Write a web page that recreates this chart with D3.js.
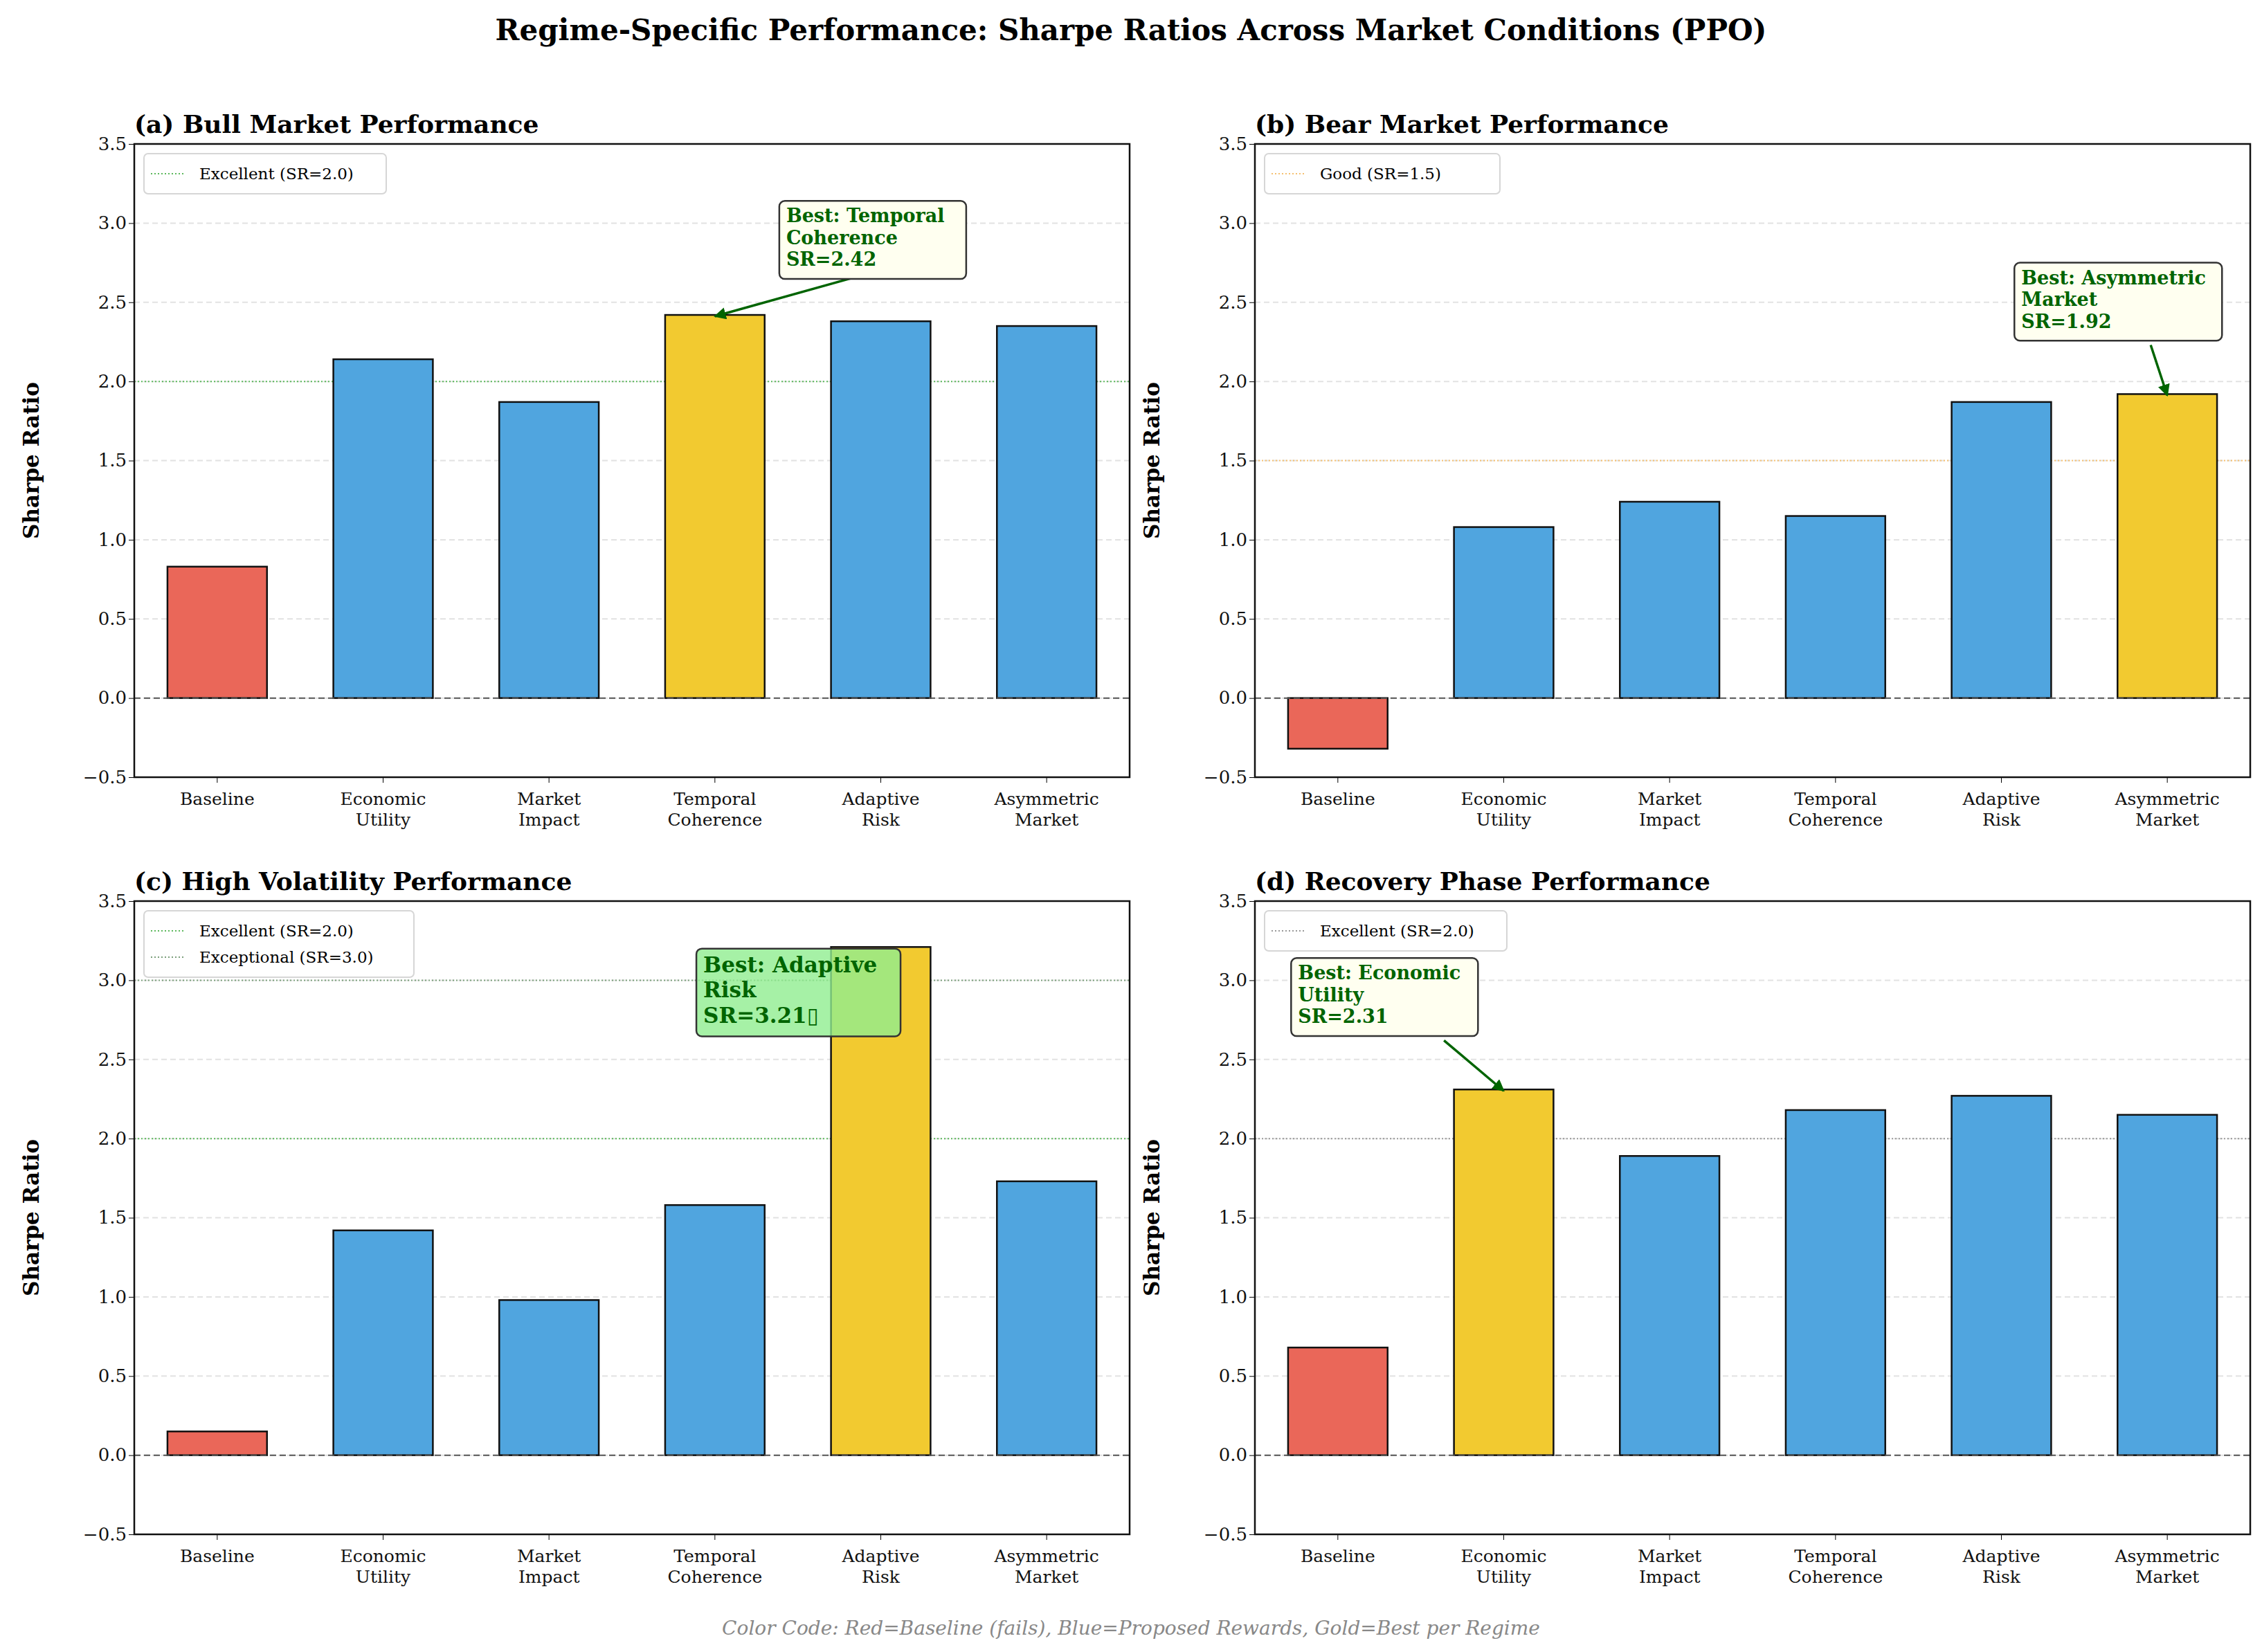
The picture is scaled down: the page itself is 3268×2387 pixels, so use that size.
<!DOCTYPE html>
<html><head><meta charset="utf-8">
<script src="https://cdn.jsdelivr.net/npm/d3@7"></script>
<style>body{margin:0;background:#fff}</style>
</head><body>
<svg id="chart" width="3268" height="2387"></svg>
<script>
// data
var categories = ['Baseline', 'Economic\nUtility', 'Market\nImpact', 'Temporal\nCoherence', 'Adaptive\nRisk', 'Asymmetric\nMarket'];
var bullValues = [0.83, 2.14, 1.87, 2.42, 2.38, 2.35];
var bearValues = [-0.32, 1.08, 1.24, 1.15, 1.87, 1.92];
var volValues = [0.15, 1.42, 0.98, 1.58, 3.21, 1.73];
var recValues = [0.68, 2.31, 1.89, 2.18, 2.27, 2.15];
var yTicks = [-0.5, 0, 0.5, 1, 1.5, 2, 2.5, 3, 3.5];

var RED = '#ea6759', BLUE = '#50a5df', GOLD = '#f2ca30';
var FONT = 'DejaVu Serif';

var panels = [
	{title: '(a) Bull Market Performance', values: bullValues, x: 194, y: 208,
		refs: [{v: 2.0, label: 'Excellent (SR=2.0)', color: '#5cb85c'}],
		note: {lines: ['Best: Temporal', 'Coherence', 'SR=2.42'], bx: 3.43, by: 3.14, fill: '#fffff0', arrowFrom: [3.85, 2.66], big: false}},
	{title: '(b) Bear Market Performance', values: bearValues, x: 1813, y: 208,
		refs: [{v: 1.5, label: 'Good (SR=1.5)', color: '#f5c070'}],
		note: {lines: ['Best: Asymmetric', 'Market', 'SR=1.92'], bx: 4.12, by: 2.75, fill: '#fffff0', arrowFrom: [4.9, 2.23], big: false}},
	{title: '(c) High Volatility Performance', values: volValues, x: 194, y: 1302,
		refs: [{v: 2.0, label: 'Excellent (SR=2.0)', color: '#5cb85c'}, {v: 3.0, label: 'Exceptional (SR=3.0)', color: '#7a9e7a'}],
		note: {lines: ['Best: Adaptive', 'Risk', 'SR=3.21\u25af'], bx: 2.93, by: 3.2, fill: 'rgba(144,238,144,0.8)', arrowFrom: null, big: true}},
	{title: '(d) Recovery Phase Performance', values: recValues, x: 1813, y: 1302,
		refs: [{v: 2.0, label: 'Excellent (SR=2.0)', color: '#999'}],
		note: {lines: ['Best: Economic', 'Utility', 'SR=2.31'], bx: -0.24, by: 3.14, fill: '#fffff0', arrowFrom: [0.64, 2.62], big: false}}
];

var W = 1438, H = 915;
var svg = d3.select('#chart');
svg.append('defs').append('marker').attr('id', 'arr').attr('viewBox', '0 0 10 10')
	.attr('refX', 9).attr('refY', 5).attr('markerWidth', 5).attr('markerHeight', 5).attr('orient', 'auto')
	.append('path').attr('d', 'M0,0 L10,5 L0,10 z').attr('fill', '#006400');

svg.append('text').attr('x', 1634).attr('y', 58).attr('text-anchor', 'middle')
	.attr('font-family', FONT).attr('font-weight', 'bold').attr('font-size', 42)
	.text('Regime-Specific Performance: Sharpe Ratios Across Market Conditions (PPO)');

svg.append('text').attr('x', 1634).attr('y', 2362).attr('text-anchor', 'middle')
	.attr('font-family', FONT).attr('font-style', 'italic').attr('font-size', 28).attr('fill', '#888')
	.text('Color Code: Red=Baseline (fails), Blue=Proposed Rewards, Gold=Best per Regime');

panels.forEach(function(p){
	var g = svg.append('g').attr('transform', 'translate(' + p.x + ',' + p.y + ')');
	var x = d3.scaleBand().domain(d3.range(categories.length)).range([0, W]).paddingInner(0.4).paddingOuter(0.2);
	var y = d3.scaleLinear().domain([-0.5, 3.5]).range([H, 0]);
	var cx = function(i){ return x(0) + x.bandwidth() / 2 + i * x.step(); };
	var best = d3.maxIndex(p.values);

	// grid
	g.selectAll('.grid').data(yTicks.slice(1, -1)).enter().append('line')
		.attr('x1', 0).attr('x2', W).attr('y1', y).attr('y2', y)
		.attr('stroke', '#e2e2e2').attr('stroke-width', 2).attr('stroke-dasharray', '8,5');

	// reference lines
	p.refs.forEach(function(r){
		g.append('line').attr('x1', 0).attr('x2', W).attr('y1', y(r.v)).attr('y2', y(r.v))
			.attr('stroke', r.color).attr('stroke-width', 2).attr('stroke-dasharray', '2,3');
	});

	// bars
	g.selectAll('.bar').data(p.values).enter().append('rect')
		.attr('x', function(d, i){ return x(i); })
		.attr('width', x.bandwidth())
		.attr('y', function(d){ return y(Math.max(0, d)); })
		.attr('height', function(d){ return Math.abs(y(d) - y(0)); })
		.attr('fill', function(d, i){ return i === 0 ? RED : (i === best ? GOLD : BLUE); })
		.attr('stroke', '#111').attr('stroke-width', 2.5);

	// zero line
	g.append('line').attr('x1', 0).attr('x2', W).attr('y1', y(0)).attr('y2', y(0))
		.attr('stroke', '#555').attr('stroke-width', 2).attr('stroke-dasharray', '9,5');

	// axes
	var ya = g.append('g').call(d3.axisLeft(y).tickValues(yTicks).tickSize(8).tickFormat(function(d){
		return (d < 0 ? '\u2212' : '') + Math.abs(d).toFixed(1); }));
	ya.selectAll('text').attr('font-family', FONT).attr('font-size', 26).attr('fill', '#111');
	ya.select('.domain').remove();
	var xa = g.append('g').attr('transform', 'translate(0,' + H + ')')
		.call(d3.axisBottom(x).tickSize(8).tickFormat(''));
	xa.select('.domain').remove();
	xa.selectAll('.tick').each(function(d){
		var lines = categories[d].split('\n');
		var t = d3.select(this).append('text').attr('fill', '#111').attr('font-family', FONT)
			.attr('font-size', 25).attr('text-anchor', 'middle').attr('y', 40);
		lines.forEach(function(l, k){ t.append('tspan').attr('x', 0).attr('dy', k ? 30 : 0).text(l); });
	});
	g.append('rect').attr('width', W).attr('height', H).attr('fill', 'none').attr('stroke', '#111').attr('stroke-width', 2.5);

	g.append('text').attr('x', 0).attr('y', -16).attr('font-family', FONT).attr('font-weight', 'bold')
		.attr('font-size', 36).text(p.title);
	g.append('text').attr('transform', 'translate(-138,' + (H / 2) + ') rotate(-90)').attr('text-anchor', 'middle')
		.attr('font-family', FONT).attr('font-weight', 'bold').attr('font-size', 31).text('Sharpe Ratio');

	// legend
	var lg = g.append('g').attr('transform', 'translate(14,14)');
	var lw = p.refs.length > 1 ? 390 : (p.refs[0].label.length > 14 ? 350 : 330);
	if (p.refs[0].label === 'Good (SR=1.5)') lw = 322 - 210;
	lg.append('rect').attr('width', p.refs[0].label === 'Good (SR=1.5)' ? 330 - 215 + 210 - 210 + 225 : lw)
		.attr('height', 20 + 38 * p.refs.length).attr('rx', 6).attr('fill', '#fff').attr('stroke', '#d6d6d6').attr('stroke-width', 2);
	p.refs.forEach(function(r, k){
		var yy = 29 + 38 * k;
		lg.append('line').attr('x1', 10).attr('x2', 60).attr('y1', yy).attr('y2', yy)
			.attr('stroke', r.color).attr('stroke-width', 2).attr('stroke-dasharray', '2,3');
		lg.append('text').attr('x', 80).attr('y', yy + 8).attr('font-family', FONT).attr('font-size', 23).text(r.label);
	});

	// annotation
	var n = p.note;
	var bx = cx(n.bx), by = y(n.by);
	var fs = n.big ? 31 : 27, lh = fs * 1.17;
	var bw = n.big ? 295 : 270;
	if (n.lines[0] === 'Best: Asymmetric') bw = 300;
	var bh = lh * 3 + 18;
	if (n.arrowFrom) {
		g.append('line').attr('x1', cx(n.arrowFrom[0])).attr('y1', y(n.arrowFrom[1]))
			.attr('x2', cx(best)).attr('y2', y(p.values[best]) + 2)
			.attr('stroke', '#006400').attr('stroke-width', 3.5).attr('marker-end', 'url(#arr)');
	}
	g.append('rect').attr('x', bx - 10).attr('y', by).attr('width', bw).attr('height', bh).attr('rx', 8)
		.attr('fill', n.fill).attr('stroke', '#333').attr('stroke-width', 2.5);
	var tt = g.append('text').attr('font-family', FONT).attr('font-weight', 'bold').attr('font-size', fs).attr('fill', '#006400');
	n.lines.forEach(function(l, k){ tt.append('tspan').attr('x', bx).attr('y', by + 8 + fs * 0.85 + lh * k).text(l); });
});
</script>
</body></html>
